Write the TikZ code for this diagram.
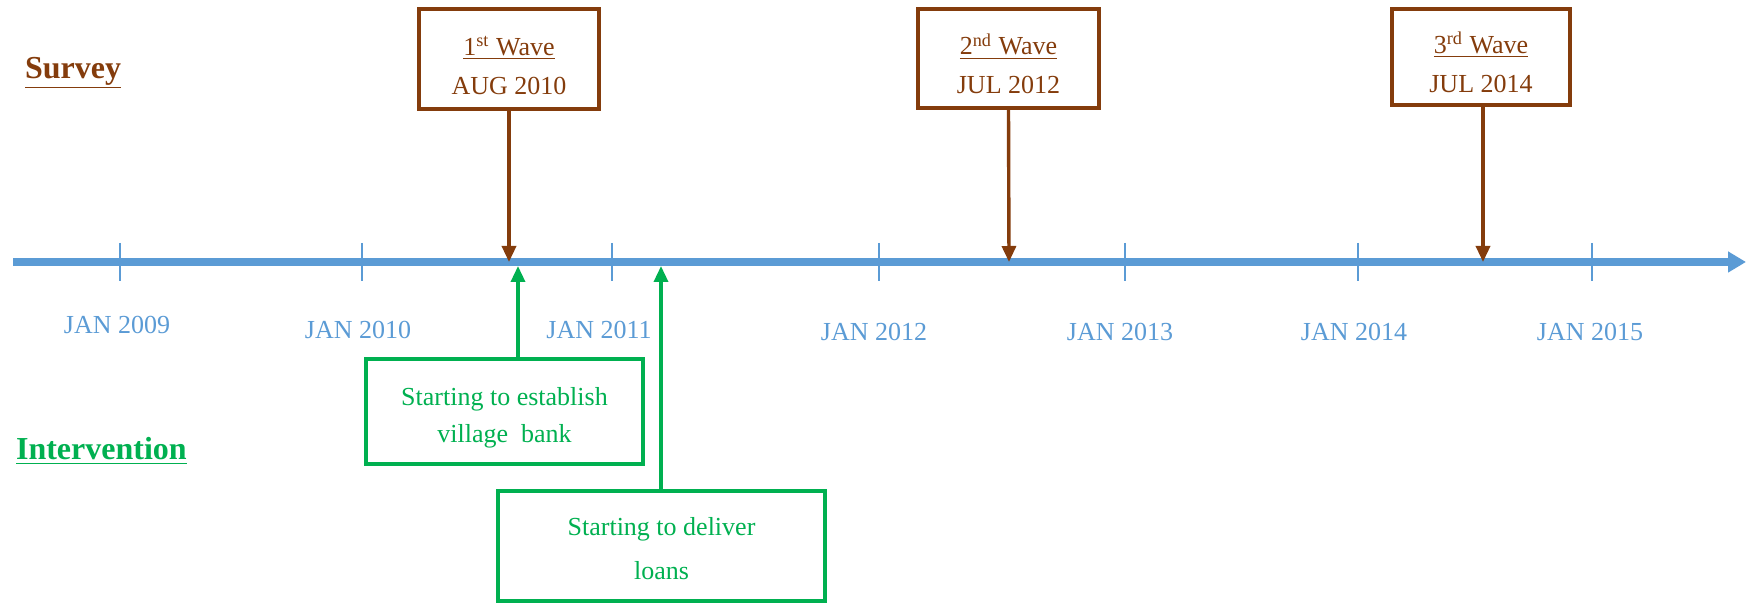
\documentclass[tikz,border=0pt]{standalone}
\usepackage{fontspec}
\setmainfont{Liberation Serif}
\usetikzlibrary{arrows.meta}
\definecolor{survbrown}{HTML}{843C0C}
\definecolor{axisblue}{HTML}{5B9BD5}
\definecolor{intgreen}{HTML}{00B050}

\begin{document}
\begin{tikzpicture}[x=0.5pt, y=-0.5pt,
    timeaxis/.style={draw=axisblue, line width=3.8pt, -{Triangle[length=9pt, width=10pt]}},
    tickline/.style={draw=axisblue, line width=0.7pt},
    yearlabel/.style={text=axisblue, font=\fontsize{13}{15}\selectfont},
    rowtitle/.style={anchor=west, font=\fontsize{16}{18}\selectfont\bfseries},
    wavebox/.style={draw=survbrown, line width=1.6pt, text=survbrown, align=center,
        inner sep=0pt, font=\fontsize{13}{19.5}\selectfont},
    intbox/.style={draw=intgreen, line width=1.6pt, text=intgreen, align=center,
        inner sep=0pt},
    wavearrow/.style={draw=survbrown, line width=1.7pt, -{Triangle[length=8pt, width=7pt]}},
    intarrow/.style={draw=intgreen, line width=1.7pt, -{Triangle[length=8pt, width=7pt]}}]

    \useasboundingbox (0,0) rectangle (1746,603);

    \coordinate (axstart) at (13,262);
    \coordinate (axend) at (1746,262);
    \draw[timeaxis] (axstart) -- (axend);

    \foreach \tx/\lx/\ly/\yr in {120/117/325/2009, 362/358/330/2010, 612/599/330/2011,
        879/874/332/2012, 1125/1120/332/2013, 1358/1354/332/2014, 1592/1590/332/2015}{
        \draw[tickline] (\tx,243) -- (\tx,281);
        \node[yearlabel] (y\yr) at (\lx,\ly) {JAN \yr};
    }

    \node[rowtitle, text=survbrown] (survey) at (18,73) {\underline{Survey}};
    \node[rowtitle, text=intgreen] (intervention) at (9,451) {\underline{Intervention}};

    \node[wavebox, minimum width=90pt, minimum height=50pt]
        (wave1) at (509,59) {\rule{0pt}{16pt}\underline{1\textsuperscript{st} Wave}\\AUG 2010};
    \node[wavebox, minimum width=90.5pt, minimum height=49.5pt]
        (wave2) at (1008.5,58.5) {\rule{0pt}{16pt}\underline{2\textsuperscript{nd} Wave}\\JUL 2012};
    \node[wavebox, minimum width=89pt, minimum height=48pt]
        (wave3) at (1481,57) {\rule{0pt}{16pt}\underline{3\textsuperscript{rd} Wave}\\JUL 2014};

    \coordinate (w1) at (509,262);
    \coordinate (w2) at (1009,262);
    \coordinate (w3) at (1483,262);
    \draw[wavearrow] (wave1.south) -- (w1);
    \draw[wavearrow] (wave2.south) -- (w2);
    \draw[wavearrow] (wave3.south -| w3) -- (w3);

    \node[intbox, minimum width=138.5pt, minimum height=52.5pt, font=\fontsize{13}{18.5}\selectfont]
        (bank) at (504.5,411.5) {\rule{0pt}{15pt}Starting to establish\\village\ \ bank};
    \node[intbox, minimum width=163.5pt, minimum height=55pt, font=\fontsize{13}{22}\selectfont]
        (loans) at (661.5,546) {\rule{0pt}{12pt}Starting to deliver\\loans};

    \coordinate (g1) at (518,266);
    \coordinate (g2) at (661,266);
    \draw[intarrow] (bank.north -| g1) -- (g1);
    \draw[intarrow] (loans.north -| g2) -- (g2);
\end{tikzpicture}
\end{document}
